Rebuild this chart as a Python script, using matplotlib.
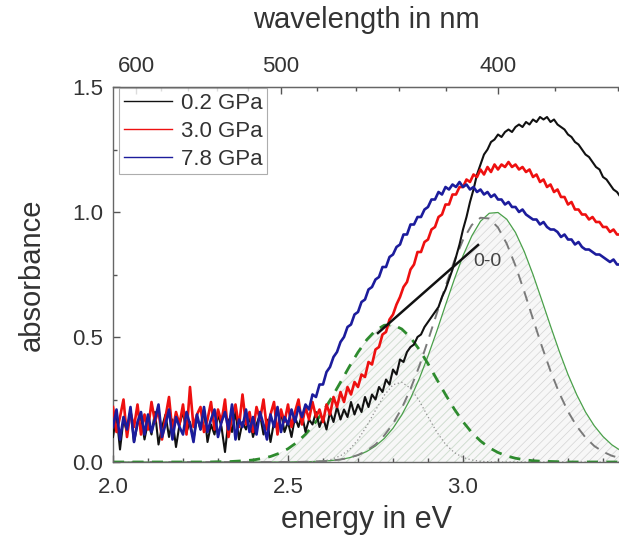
import numpy as np
import matplotlib
matplotlib.use("Agg")
import matplotlib.pyplot as plt
from matplotlib.ticker import MultipleLocator, FixedLocator

plt.rcParams['font.family'] = ['Liberation Sans', 'DejaVu Sans']
plt.rcParams['hatch.linewidth'] = 0.5

# ---------------- data ----------------
energy = np.round(np.arange(2.00, 3.4501, 0.01), 2)

abs_02GPa = [
    0.10, 0.19, 0.05, 0.17, 0.12, 0.21, 0.08, 0.15, 0.18, 0.09,
    0.16, 0.11, 0.20, 0.07, 0.14, 0.19, 0.10, 0.17, 0.06, 0.15,
    0.20, 0.12, 0.16, 0.09, 0.18, 0.13, 0.21, 0.08, 0.15, 0.11,
    0.19, 0.14, 0.04, 0.17, 0.12, 0.20, 0.09, 0.16, 0.13, 0.18,
    0.10, 0.15, 0.19, 0.11, 0.17, 0.08, 0.16, 0.13, 0.20, 0.12,
    0.16, 0.10, 0.18, 0.14, 0.19, 0.12, 0.17, 0.15, 0.20, 0.14,
    0.18, 0.13, 0.20, 0.16, 0.22, 0.17, 0.21, 0.18, 0.24, 0.19,
    0.23, 0.20, 0.26, 0.22, 0.27, 0.25, 0.30, 0.28, 0.33, 0.31,
    0.37, 0.35, 0.41, 0.40, 0.44, 0.46, 0.47, 0.50, 0.51, 0.54,
    0.56, 0.58, 0.60, 0.62, 0.66, 0.69, 0.73, 0.77, 0.82, 0.87,
    0.93, 0.98, 1.04, 1.09, 1.15, 1.19, 1.23, 1.25, 1.28, 1.29,
    1.31, 1.30, 1.32, 1.33, 1.32, 1.34, 1.35, 1.34, 1.36, 1.35,
    1.37, 1.36, 1.38, 1.37, 1.38, 1.36, 1.37, 1.35, 1.34, 1.33,
    1.31, 1.30, 1.28, 1.27, 1.25, 1.23, 1.22, 1.20, 1.18, 1.17,
    1.14, 1.13, 1.11, 1.09, 1.08, 1.06]

abs_30GPa = [
    0.22, 0.12, 0.18, 0.25, 0.10, 0.20, 0.14, 0.23, 0.11, 0.19,
    0.13, 0.24, 0.16, 0.21, 0.09, 0.18, 0.26, 0.12, 0.20, 0.15,
    0.23, 0.11, 0.30, 0.14, 0.19, 0.22, 0.12, 0.17, 0.24, 0.13,
    0.21, 0.16, 0.25, 0.10, 0.18, 0.23, 0.14, 0.27, 0.15, 0.20,
    0.12, 0.22, 0.17, 0.25, 0.13, 0.19, 0.24, 0.11, 0.21, 0.16,
    0.23, 0.14, 0.20, 0.25, 0.15, 0.22, 0.17, 0.24, 0.18, 0.21,
    0.16, 0.23, 0.19, 0.26, 0.22, 0.28, 0.24, 0.30, 0.27, 0.32,
    0.30, 0.35, 0.34, 0.40, 0.39, 0.45, 0.46, 0.51, 0.52, 0.57,
    0.59, 0.63, 0.66, 0.70, 0.72, 0.77, 0.79, 0.84, 0.84, 0.88,
    0.89, 0.93, 0.94, 0.98, 0.99, 1.03, 1.03, 1.07, 1.07, 1.10,
    1.10, 1.13, 1.12, 1.15, 1.14, 1.17, 1.15, 1.18, 1.16, 1.19,
    1.17, 1.19, 1.18, 1.20, 1.18, 1.19, 1.17, 1.18, 1.16, 1.17,
    1.14, 1.15, 1.12, 1.13, 1.10, 1.11, 1.08, 1.09, 1.06, 1.06,
    1.03, 1.04, 1.01, 1.01, 0.99, 0.99, 0.97, 0.98, 0.96, 0.96,
    0.94, 0.94, 0.92, 0.93, 0.91, 0.91]

abs_78GPa = [
    0.14, 0.21, 0.09, 0.18, 0.13, 0.22, 0.08, 0.16, 0.20, 0.11,
    0.19, 0.12, 0.17, 0.23, 0.10, 0.15, 0.21, 0.09, 0.18, 0.14,
    0.11, 0.20, 0.15, 0.08, 0.19, 0.13, 0.22, 0.12, 0.17, 0.21,
    0.10, 0.16, 0.20, 0.13, 0.23, 0.09, 0.17, 0.14, 0.21, 0.12,
    0.18, 0.11, 0.20, 0.15, 0.09, 0.19, 0.14, 0.22, 0.12, 0.18,
    0.15, 0.21, 0.16, 0.22, 0.18, 0.23, 0.21, 0.27, 0.26, 0.31,
    0.31, 0.36, 0.38, 0.42, 0.44, 0.48, 0.50, 0.54, 0.55, 0.59,
    0.60, 0.64, 0.65, 0.69, 0.70, 0.73, 0.74, 0.78, 0.78, 0.82,
    0.83, 0.86, 0.87, 0.91, 0.91, 0.95, 0.95, 0.98, 0.98, 1.01,
    1.02, 1.05, 1.05, 1.08, 1.07, 1.10, 1.09, 1.11, 1.10, 1.12,
    1.10, 1.11, 1.09, 1.10, 1.08, 1.09, 1.07, 1.08, 1.06, 1.07,
    1.05, 1.05, 1.03, 1.04, 1.02, 1.02, 1.00, 1.01, 0.99, 0.98,
    0.97, 0.97, 0.95, 0.96, 0.94, 0.93, 0.93, 0.92, 0.90, 0.91,
    0.89, 0.89, 0.87, 0.88, 0.86, 0.85, 0.85, 0.84, 0.83, 0.83,
    0.82, 0.81, 0.80, 0.81, 0.79, 0.79]

series_labels = ['0.2 GPa', '3.0 GPa', '7.8 GPa']

# fit components (sampled every 0.025 eV from 2.0 to 3.45)
fit_energy = np.round(np.arange(2.0, 3.4501, 0.025), 3)
fit_envelope = [
    0, 0, 0, 0, 0, 0, 0, 0,
    0, 0, 0, 0, 0, 0, 0, 0, 0, 0,
    0.000, 0.000, 0.000, 0.001, 0.001, 0.002, 0.003, 0.006, 0.010, 0.017,
    0.027, 0.042, 0.064, 0.094, 0.135, 0.188, 0.254, 0.333, 0.424, 0.523,
    0.628, 0.730, 0.825, 0.904, 0.963, 0.995, 0.998, 0.971, 0.918, 0.842,
    0.750, 0.648, 0.544, 0.443, 0.350, 0.269, 0.200, 0.145, 0.102, 0.069,
    0.046]
fit_00 = [
    0, 0, 0, 0, 0, 0, 0, 0,
    0, 0, 0, 0, 0, 0, 0, 0, 0, 0,
    0.000, 0.000, 0.000, 0.000, 0.001, 0.002, 0.003, 0.006, 0.010, 0.017,
    0.028, 0.045, 0.070, 0.106, 0.153, 0.215, 0.292, 0.383, 0.486, 0.594,
    0.703, 0.804, 0.888, 0.948, 0.977, 0.974, 0.938, 0.873, 0.785, 0.682,
    0.572, 0.464, 0.364, 0.276, 0.202, 0.143, 0.098, 0.064, 0.041, 0.025,
    0.015]
fit_low = [
    0, 0, 0, 0, 0, 0, 0, 0,
    0.000, 0.000, 0.000, 0.000, 0.001, 0.001, 0.003, 0.005, 0.008, 0.014,
    0.022, 0.035, 0.053, 0.078, 0.111, 0.152, 0.201, 0.258, 0.319, 0.381,
    0.439, 0.489, 0.526, 0.547, 0.549, 0.532, 0.498, 0.450, 0.393, 0.331,
    0.270, 0.212, 0.161, 0.118, 0.084, 0.057, 0.038, 0.024, 0.015, 0.009,
    0.005, 0.003, 0.002, 0.001, 0.000, 0.000, 0.000, 0.000, 0.000, 0.000,
    0.000]
fit_mid = [
    0, 0, 0, 0, 0, 0, 0, 0,
    0, 0, 0, 0, 0, 0, 0, 0, 0, 0,
    0, 0, 0, 0, 0.001, 0.002, 0.004, 0.011, 0.025, 0.049,
    0.089, 0.144, 0.207, 0.267, 0.309, 0.319, 0.295, 0.245, 0.181, 0.120,
    0.071, 0.038, 0.018, 0.008, 0.003, 0.001, 0, 0, 0, 0,
    0, 0, 0, 0, 0, 0, 0, 0, 0, 0,
    0]

tangent_energy = [2.757, 3.043]
tangent_abs = [0.516, 0.868]
tangent_label = '0-0'

wl_major = [600, 500, 400]
wl_minor = [580, 560, 540, 520, 480, 460, 440, 420, 380, 360]

# ---------------- figure ----------------
fig = plt.figure(figsize=(6.19, 5.47), dpi=100)
ax = fig.add_axes([113 / 619, 85 / 547, 507.5 / 619, 375 / 547])

env = np.maximum(np.array(fit_envelope), np.array(fit_low))
ax.fill_between(fit_energy, 0, env, facecolor='#f7f7f7', edgecolor='#d4d4d4',
                hatch='////', linewidth=0, zorder=1)
ax.fill_between(fit_energy, 0, fit_low, facecolor='none', edgecolor='#d2e4d2',
                hatch='////', linewidth=0, zorder=1.1)

ax.plot(fit_energy, fit_envelope, color='#4aa04a', lw=0.9, zorder=2)
ax.plot(fit_energy, fit_mid, color='#909090', lw=0.9, ls=(0, (1, 2)), zorder=2)
ax.plot(fit_energy, fit_00, color='#7a7a7a', lw=1.4, ls=(0, (5.5, 4)), zorder=2)
ax.plot(fit_energy, fit_low, color='#2e8b2e', lw=2.0, ls=(0, (4, 3)), zorder=2.5)

colors = ['#111111', '#ee1010', '#1c1c9c']
widths = [1.5, 1.9, 1.9]
handles = []
for vals, col, lw, lab in zip([abs_02GPa, abs_30GPa, abs_78GPa], colors, widths,
                              series_labels):
    h, = ax.plot(energy, vals, color=col, lw=lw, zorder=3, label=lab)
    handles.append(h)

ax.plot(tangent_energy, tangent_abs, color='#111111', lw=1.8, zorder=4)
ax.text(3.069, 0.80, tangent_label, fontsize=14, color='#444444',
        ha='center', va='center', zorder=4)

ax.set_xlim(2.0, 3.45)
ax.set_ylim(0.0, 1.5)
ax.xaxis.set_major_locator(FixedLocator([2.0, 2.5, 3.0]))
ax.xaxis.set_minor_locator(MultipleLocator(0.1))
ax.yaxis.set_major_locator(MultipleLocator(0.5))
ax.yaxis.set_minor_locator(MultipleLocator(0.25))
ax.xaxis.set_major_formatter(plt.FuncFormatter(lambda v, p: f'{v:.1f}'))
ax.yaxis.set_major_formatter(plt.FuncFormatter(lambda v, p: f'{v:.1f}'))
ax.tick_params(which='both', direction='in', top=False, right=False,
               colors='#555555', labelcolor='#333333', labelsize=16)
ax.tick_params(which='major', length=5, width=1)
ax.tick_params(axis='x', which='major', pad=11)
ax.tick_params(axis='y', which='major', pad=7)
ax.tick_params(which='minor', length=3, width=1)
for s in ['left', 'bottom', 'top']:
    ax.spines[s].set_color('#666666')
    ax.spines[s].set_linewidth(1.0)
ax.spines['right'].set_visible(False)

ax.set_xlabel('energy in eV', fontsize=22, color='#333333')
ax.set_ylabel('absorbance', fontsize=21, color='#333333')
ax.xaxis.set_label_coords(0.5, (462 - 505) / 375)
ax.yaxis.set_label_coords((46 - 113) / 507.5, 0.5)

sec = ax.secondary_xaxis('top', functions=(lambda e: 1239.84 / np.asarray(e, float),
                                           lambda w: 1239.84 / np.asarray(w, float)))
sec.xaxis.set_major_locator(FixedLocator(wl_major))
sec.xaxis.set_minor_locator(FixedLocator(wl_minor))
sec.tick_params(which='both', direction='in', colors='#555555', labelcolor='#333333',
                labelsize=16)
sec.tick_params(which='major', length=5, width=1, pad=7)
sec.tick_params(which='minor', length=3, width=1)
sec.spines['top'].set_color('#666666')
sec.set_xlabel('wavelength in nm', fontsize=21, color='#333333', labelpad=20)

leg = ax.legend(handles=handles, loc='upper left', bbox_to_anchor=(0.012, 0.997),
                borderaxespad=0, fontsize=16, frameon=True, fancybox=False,
                edgecolor='#999999', handlelength=2.2, handletextpad=0.4,
                borderpad=0.2, labelspacing=0.32)
leg.get_frame().set_linewidth(0.8)
for ln in leg.get_lines():
    ln.set_linewidth(1.0)
for t in leg.get_texts():
    t.set_color('#333333')

fig.savefig('out.png', dpi=100)
